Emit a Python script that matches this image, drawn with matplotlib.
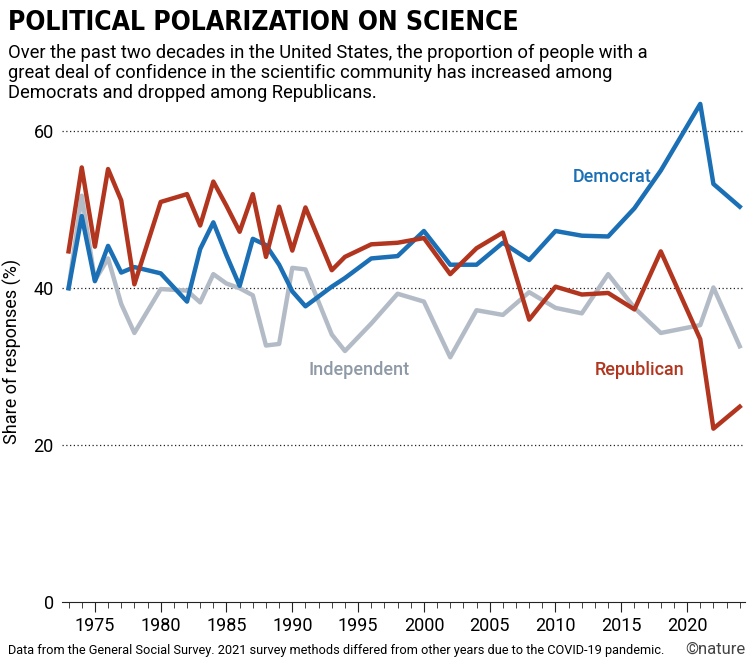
import matplotlib.pyplot as plt

years = [1973, 1974, 1975, 1976, 1977, 1978, 1980, 1982, 1983, 1984, 1985, 1986, 1987, 1988,
         1989, 1990, 1991, 1993, 1994, 1996, 1998, 2000, 2002, 2004, 2006, 2008, 2010, 2012,
         2014, 2016, 2018, 2021, 2022, 2024]
democrat = [40.0, 49.2, 40.9, 45.4, 42.0, 42.7, 41.9, 38.3, 45.0, 48.4, 44.2, 40.3, 46.3, 45.5,
            43.0, 39.6, 37.7, 40.2, 41.3, 43.8, 44.1, 47.3, 43.0, 43.0, 45.8, 43.6, 47.3, 46.7,
            46.6, 50.2, 55.0, 63.5, 53.3, 50.4]
republican = [44.7, 55.4, 45.3, 55.2, 51.2, 40.5, 51.0, 52.0, 48.0, 53.6, 50.5, 47.2, 52.0, 44.0,
              50.4, 44.8, 50.3, 42.3, 44.0, 45.6, 45.8, 46.4, 41.8, 45.1, 47.1, 36.0, 40.2, 39.2,
              39.4, 37.3, 44.7, 33.5, 22.1, 24.9]
independent = [40.0, 51.8, 41.0, 43.8, 38.0, 34.3, 39.9, 39.7, 38.2, 41.8, 40.6, 40.0, 39.1, 32.7,
               32.9, 42.6, 42.4, 34.1, 32.0, 35.5, 39.3, 38.3, 31.2, 37.2, 36.6, 39.5, 37.5, 36.8,
               41.8, 37.5, 34.3, 35.3, 40.1, 32.6]

plt.rcParams['font.family'] = ['Roboto', 'DejaVu Sans']

fig = plt.figure(figsize=(7.51, 6.63), dpi=100)
ax = fig.add_axes([62 / 751, 61 / 663, (745 - 62) / 751, (602 - 100) / 663])

for y in (20, 40, 60):
    ax.axhline(y, color='#222222', lw=0.9, ls=(0, (1, 2)), zorder=0)

ax.plot(years, independent, color='#b3bcc6', lw=3.2, zorder=1)
ax.plot(years, democrat, color='#1a6fb5', lw=3.2, zorder=2)
ax.plot(years, republican, color='#b2361f', lw=3.2, zorder=3)

ax.set_xlim(1972.5, 2024.4)
ax.set_ylim(0, 64)
ax.set_yticks([0, 20, 40, 60])
ax.set_xticks(range(1975, 2021, 5))
ax.set_xticks(range(1973, 2025), minor=True)
ax.tick_params(axis='x', which='major', length=7, labelsize=13, color='#222222')
ax.tick_params(axis='x', which='minor', length=4, color='#222222')
ax.tick_params(axis='y', length=0, labelsize=13, pad=6)
for s in ('top', 'right', 'left'):
    ax.spines[s].set_visible(False)
ax.spines['bottom'].set_color('#222222')
ax.set_ylabel('Share of responses (%)', fontsize=13, labelpad=8)

ax.text(2011.3, 53.6, 'Democrat', color='#1a6fb5', fontsize=13, fontweight='medium')
ax.text(2013.0, 29.0, 'Republican', color='#b2361f', fontsize=13, fontweight='medium')
ax.text(1991.2, 29.0, 'Independent', color='#8f9aa6', fontsize=13, fontweight='medium')

fig.text(8 / 751, 1 - 30 / 663, 'POLITICAL POLARIZATION ON SCIENCE',
         family='DejaVu Sans', stretch='condensed', fontweight='bold', fontsize=19)
fig.text(8 / 751, 1 - 98 / 663,
         'Over the past two decades in the United States, the proportion of people with a\n'
         'great deal of confidence in the scientific community has increased among\n'
         'Democrats and dropped among Republicans.',
         fontsize=13.2, linespacing=1.15)
fig.text(8 / 751, 1 - 654 / 663,
         'Data from the General Social Survey. 2021 survey methods differed from other years due to the COVID-19 pandemic.',
         fontsize=9.2)
fig.text(745 / 751, 1 - 654 / 663, '©nature', fontsize=12, ha='right', color='#444444')

fig.savefig('out.png', dpi=100)
